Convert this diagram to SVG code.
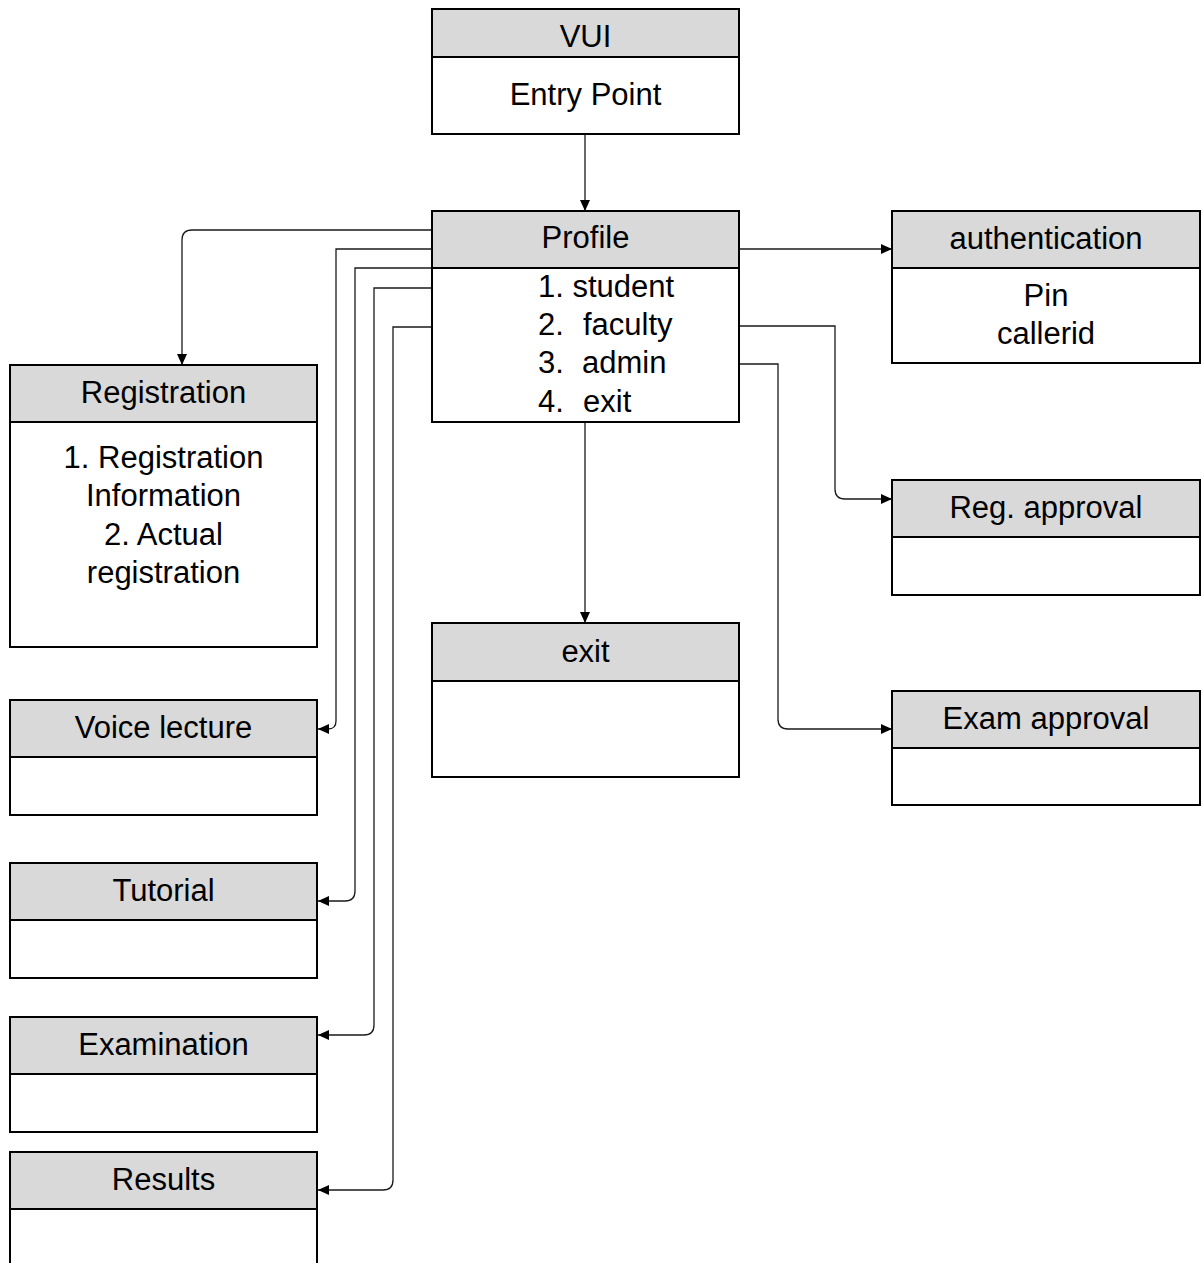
<svg xmlns="http://www.w3.org/2000/svg" width="1201" height="1263" viewBox="0 0 1201 1263">
  <style>
    .box { fill: #ffffff; stroke: #000000; stroke-width: 2; }
    .head { fill: #d9d9d9; stroke: #000000; stroke-width: 2; }
    .t { font-family: "Liberation Sans", Arial, sans-serif; font-size: 31px; fill: #000000; }
    .c { text-anchor: middle; }
    .conn { fill: none; stroke: #1a1a1a; stroke-width: 1.3; }
  </style>
  <defs>
    <marker id="arrow" viewBox="0 0 11 10" refX="11" refY="5" markerWidth="11" markerHeight="10" markerUnits="userSpaceOnUse" orient="auto">
      <path d="M0,0 L11,5 L0,10 Z" fill="#000000"/>
    </marker>
  </defs>
  <rect width="1201" height="1263" fill="#ffffff"/>

  <!-- connectors -->
  <g id="connectors">
    <path class="conn" d="M585,134 V211" marker-end="url(#arrow)"/>
    <path class="conn" d="M585,422 V623" marker-end="url(#arrow)"/>
    <path class="conn" d="M739,249 H892" marker-end="url(#arrow)"/>
    <path class="conn" d="M739,326 H835 V489 Q835,499 845,499 H892" marker-end="url(#arrow)"/>
    <path class="conn" d="M739,364 H778 V719 Q778,729 788,729 H892" marker-end="url(#arrow)"/>
    <path class="conn" d="M432,230 H192 Q182,230 182,240 V365" marker-end="url(#arrow)"/>
    <path class="conn" d="M432,249 H336 V721 Q336,729 328,729 H318" marker-end="url(#arrow)"/>
    <path class="conn" d="M432,268 H355 V891 Q355,901 345,901 H318" marker-end="url(#arrow)"/>
    <path class="conn" d="M432,288 H374 V1025 Q374,1035 364,1035 H318" marker-end="url(#arrow)"/>
    <path class="conn" d="M432,327 H393 V1180 Q393,1190 383,1190 H318" marker-end="url(#arrow)"/>
  </g>

  <g id="vui">
    <rect class="box" x="432" y="9" width="307" height="125"/>
    <rect class="head" x="432" y="9" width="307" height="48"/>
    <text class="t c" x="585.5" y="47">VUI</text>
    <text class="t c" x="585.5" y="105">Entry Point</text>
  </g>

  <g id="profile">
    <rect class="box" x="432" y="211" width="307" height="211"/>
    <rect class="head" x="432" y="211" width="307" height="57"/>
    <text class="t c" x="585.5" y="248">Profile</text>
    <text class="t" x="538" y="297">1. student</text>
    <text class="t" x="538" y="335">2.</text>
    <text class="t" x="583" y="335">faculty</text>
    <text class="t" x="538" y="373">3.</text>
    <text class="t" x="582" y="373">admin</text>
    <text class="t" x="538" y="412">4.</text>
    <text class="t" x="583" y="412">exit</text>
  </g>

  <g id="authentication">
    <rect class="box" x="892" y="211" width="308" height="152"/>
    <rect class="head" x="892" y="211" width="308" height="57"/>
    <text class="t c" x="1046" y="249">authentication</text>
    <text class="t c" x="1046" y="306">Pin</text>
    <text class="t c" x="1046" y="344">callerid</text>
  </g>

  <g id="registration">
    <rect class="box" x="10" y="365" width="307" height="282"/>
    <rect class="head" x="10" y="365" width="307" height="57"/>
    <text class="t c" x="163.5" y="403">Registration</text>
    <text class="t c" x="163.5" y="468">1. Registration</text>
    <text class="t c" x="163.5" y="506">Information</text>
    <text class="t c" x="163.5" y="545">2. Actual</text>
    <text class="t c" x="163.5" y="583">registration</text>
  </g>

  <g id="reg-approval">
    <rect class="box" x="892" y="480" width="308" height="115"/>
    <rect class="head" x="892" y="480" width="308" height="57"/>
    <text class="t c" x="1046" y="518">Reg. approval</text>
  </g>

  <g id="exit">
    <rect class="box" x="432" y="623" width="307" height="154"/>
    <rect class="head" x="432" y="623" width="307" height="58"/>
    <text class="t c" x="585.5" y="662">exit</text>
  </g>

  <g id="exam-approval">
    <rect class="box" x="892" y="691" width="308" height="114"/>
    <rect class="head" x="892" y="691" width="308" height="57"/>
    <text class="t c" x="1046" y="729">Exam approval</text>
  </g>

  <g id="voice-lecture">
    <rect class="box" x="10" y="700" width="307" height="115"/>
    <rect class="head" x="10" y="700" width="307" height="57"/>
    <text class="t c" x="163.5" y="738">Voice lecture</text>
  </g>

  <g id="tutorial">
    <rect class="box" x="10" y="863" width="307" height="115"/>
    <rect class="head" x="10" y="863" width="307" height="57"/>
    <text class="t c" x="163.5" y="901">Tutorial</text>
  </g>

  <g id="examination">
    <rect class="box" x="10" y="1017" width="307" height="115"/>
    <rect class="head" x="10" y="1017" width="307" height="57"/>
    <text class="t c" x="163.5" y="1055">Examination</text>
  </g>

  <g id="results">
    <rect class="box" x="10" y="1152" width="307" height="140"/>
    <rect class="head" x="10" y="1152" width="307" height="57"/>
    <text class="t c" x="163.5" y="1190">Results</text>
  </g>
</svg>
